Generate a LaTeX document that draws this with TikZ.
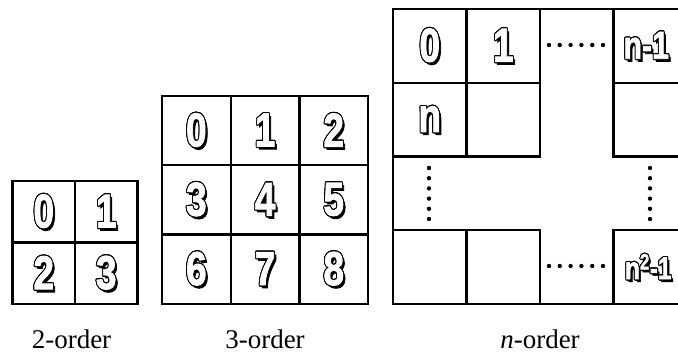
\documentclass[tikz,border=0pt]{standalone}
\usepackage{fontspec}
\setmainfont{Liberation Serif}
\newfontfamily\digfont[FakeBold=2]{Liberation Sans Bold}
\usepackage[copies]{contour}
\contourlength{1.1pt}
% outlined white glyphs with a dark drop shadow, set a little narrow
\newcommand\blockglyph[1]{\scalebox{0.84}[1.08]{%
  \makebox[0pt][l]{\smash{\hspace*{2.6pt}\raisebox{-2.6pt}{\color{black}#1}}}%
  {\color{white}\contour{black}{#1}}}}
\tikzset{
  cellbox/.style={draw, line width=2.3pt, inner sep=0pt, outer sep=0pt,
    anchor=north west, font=\digfont\fontsize{44}{44}\selectfont},
  cellA/.style={cellbox, minimum width=62.5pt, minimum height=61.5pt},
  cellB/.style={cellbox, minimum width=68.7pt, minimum height=69.3pt},
  cellC/.style={cellbox, minimum width=73.5pt, minimum height=73.75pt},
  frame/.style={draw, line width=2.3pt},
  caption/.style={anchor=base, font=\fontsize{27}{30}\selectfont, inner sep=0pt},
  dotmark/.style={fill=black, draw=none},
}
\begin{document}
\begin{tikzpicture}[x=1pt,y=-1pt]
\useasboundingbox (0,0) rectangle (678,353);

% 2-order grid
\node[cellA] (a0) at (12.5,181)   {\blockglyph{0}};
\node[cellA] (a1) at (75,181)     {\blockglyph{1}};
\node[cellA] (a2) at (12.5,242.5) {\blockglyph{2}};
\node[cellA] (a3) at (75,242.5)   {\blockglyph{3}};

% 3-order grid
\foreach \d [count=\i from 0] in {0,...,8}{
  \pgfmathtruncatemacro\col{mod(\i,3)}
  \pgfmathtruncatemacro\row{div(\i,3)}
  \node[cellB] (b\d) at ({162+68.7*\col},{96+69.3*\row}) {\blockglyph{\d}};
}

% n-order grid (runs past the right edge)
\begin{scope}
\clip (0,0) rectangle (678,353);
\path[frame] (393,9) rectangle (687,304);
\node[cellC] (c0)  at (393,9)         {\blockglyph{0}};
\node[cellC] (c1)  at (466.5,9)       {\blockglyph{1}};
\node[cellC] (cn)  at (393,82.75)     {\blockglyph{n}};
\node[cellC] (ce1) at (466.5,82.75)   {};
\node[cellC, font=\digfont\fontsize{36}{36}\selectfont] (cm) at (613.5,9) {\blockglyph{n-1}\hspace*{8pt}};
\node[cellC] (ce2) at (613.5,82.75)   {};
\node[cellC] (ce3) at (393,230.25)    {};
\node[cellC] (ce4) at (466.5,230.25)  {};
\node[cellC, font=\digfont\fontsize{29}{29}\selectfont] (cl) at (613.5,230.25) {\blockglyph{n\textsuperscript{2}-1}\hspace*{4pt}};
\end{scope}

% ellipsis dots
\foreach \k in {0,...,5}{
  \fill[dotmark] ({549+10.8*\k},45) circle (2.2);
  \fill[dotmark] ({549+10.8*\k},266) circle (2.2);
  \fill[dotmark] (429,{168+10.2*\k}) circle (2.2);
  \fill[dotmark] (650,{168+10.2*\k}) circle (2.2);
}

% captions
\node[caption] (t2) at (71.5,348) {2-order};
\node[caption] (t3) at (265,348) {3-order};
\node[caption] (tn) at (540,348) {\textit{n}-order};
\end{tikzpicture}
\end{document}
